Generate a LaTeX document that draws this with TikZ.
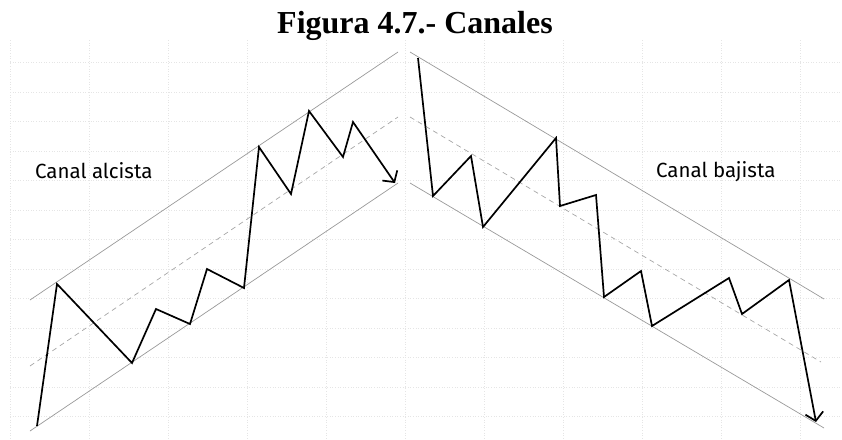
\documentclass[tikz,border=0pt]{standalone}
\usepackage{fontspec}
\setmainfont{Liberation Serif}
\newfontfamily\labelfont{Fira Sans}
\usetikzlibrary{arrows.meta}

\tikzset{
	gridline/.style={gray!20, dotted, line width=0.6pt},
	channel/.style={gray!80, line width=0.7pt},
	midline/.style={gray!70, dashed, dash pattern=on 5pt off 4pt, line width=0.7pt},
	price/.style={black, line width=1.7pt, line join=miter},
	pricearrow/.style={price, -{Straight Barb[length=8pt, width=18pt, line width=1.7pt]}},
	channeltag/.style={font=\labelfont\fontsize{20.5}{20.5}\selectfont, anchor=base west, inner sep=0pt}
}

\begin{document}
\begin{tikzpicture}[x=1pt, y=-1pt]
		\useasboundingbox (0, 0) rectangle (842, 439);
		\foreach \gx in {10, 89, ..., 800}
			\draw [gridline] (\gx, 40) -- (\gx, 439);
		\foreach \gy in {62.5, 92, ..., 417}
			\draw [gridline] (10, \gy) -- (842, \gy);
		\node (title) [anchor=base, inner sep=0pt, font=\bfseries\fontsize{32}{32}\selectfont] at (415, 33) {Figura 4.7.- Canales};
		\draw [channel] (30, 300) -- (398, 52);
		\draw [midline] (30, 366) -- (398, 117);
		\draw [channel] (30, 431) -- (398, 183);
		\draw [channel] (410, 52) -- (824, 299);
		\draw [midline] (410, 117) -- (821, 362);
		\draw [channel] (410, 183) -- (824, 428);
		\draw [pricearrow] (37, 426) -- (57, 284) -- (132, 363) -- (156, 309) -- (190, 324) -- (207, 269) -- (244, 288)
			-- (259, 147) -- (291, 194) -- (309, 111) -- (343, 157) -- (353, 122) -- (395, 183);
		\draw [pricearrow] (418, 58) -- (433, 196) -- (471, 156) -- (483, 227) -- (556, 138) -- (560, 206) -- (596, 195)
			-- (604, 297) -- (641, 271) -- (652, 326) -- (729, 278) -- (742, 314) -- (789, 280) -- (816, 422);
		\node (alcista) [channeltag] at (35, 178) {Canal alcista};
		\node (bajista) [channeltag] at (656, 177) {Canal bajista};
	\end{tikzpicture}
\end{document}
